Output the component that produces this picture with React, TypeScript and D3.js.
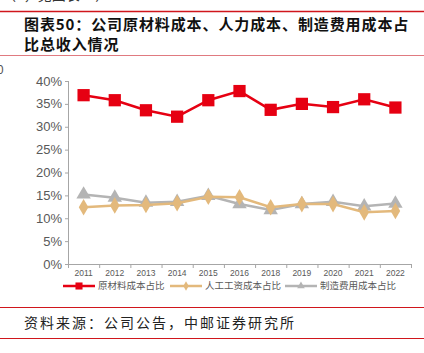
import { useEffect, useRef } from 'react';
import * as d3 from 'd3';

const years = ['2011', '2012', '2013', '2014', '2015', '2016', '2018', '2019', '2020', '2021', '2022'];
const material = [36.9, 35.8, 33.6, 32.2, 35.8, 37.8, 33.7, 35.0, 34.3, 36.0, 34.2];
const labor = [12.4, 12.8, 12.9, 13.3, 14.7, 14.6, 12.4, 13.1, 13.1, 11.3, 11.6];
const overhead = [15.2, 14.5, 13.4, 13.6, 14.9, 13.1, 11.8, 13.1, 13.6, 12.6, 13.2];
const yTicks = [0, 5, 10, 15, 20, 25, 30, 35, 40];
const seriesNames = ['原材料成本占比', '人工工资成本占比', '制造费用成本占比'];
const colors = ['#e60012', '#e3b97c', '#b4b4b4'];

const cjk = '"Noto Sans CJK SC", "Noto Sans", sans-serif';

const App = () => {
  const svgRef = useRef<SVGSVGElement>(null);

  useEffect(() => {
    const svg = d3.select(svgRef.current);
    svg.selectAll('*').remove();

    // header / footer rules and texts
    svg.append('text').attr('x', 2).attr('y', 0).attr('font-family', cjk).attr('font-size', 14)
      .attr('fill', '#333').text('（2，见图表49）');
    svg.append('line').attr('x1', 0).attr('x2', 424).attr('y1', 11.5).attr('y2', 11.5)
      .attr('stroke', '#d0161c').attr('stroke-width', 1.5);
    svg.append('line').attr('x1', 0).attr('x2', 424).attr('y1', 55.5).attr('y2', 55.5)
      .attr('stroke', '#e07a80').attr('stroke-width', 1.2);
    const title = svg.append('text').attr('font-family', cjk).attr('font-size', 15)
      .attr('font-weight', 'bold').attr('fill', '#111').attr('letter-spacing', 0.9);
    title.append('tspan').attr('x', 24).attr('y', 30).text('图表50：公司原材料成本、人力成本、制造费用成本占');
    title.append('tspan').attr('x', 24).attr('y', 50).text('比总收入情况');
    svg.append('text').attr('x', -3).attr('y', 74).attr('font-family', cjk).attr('font-size', 12)
      .attr('fill', '#555').text('0');

    svg.append('line').attr('x1', 0).attr('x2', 424).attr('y1', 307.5).attr('y2', 307.5)
      .attr('stroke', '#d0161c').attr('stroke-width', 1);
    svg.append('line').attr('x1', 0).attr('x2', 424).attr('y1', 338.5).attr('y2', 338.5)
      .attr('stroke', '#d0161c').attr('stroke-width', 1);
    svg.append('text').attr('x', 24).attr('y', 328).attr('font-family', cjk).attr('font-size', 14)
      .attr('fill', '#222').attr('letter-spacing', 2).text('资料来源：公司公告，中邮证券研究所');

    // chart
    const left = 68, right = 411, top = 81, bottom = 264;
    const x = d3.scaleBand().domain(years).range([left, right]);
    const y = d3.scaleLinear().domain([0, 40]).range([bottom, top]);
    const cx = (d: string) => (x(d) as number) + x.bandwidth() / 2;

    const g = svg.append('g');
    // y axis
    g.append('line').attr('x1', left + 0.5).attr('x2', left + 0.5).attr('y1', top).attr('y2', bottom)
      .attr('stroke', '#a6a6a6');
    yTicks.forEach(t => {
      g.append('line').attr('x1', left - 3).attr('x2', left).attr('y1', y(t) + 0.5).attr('y2', y(t) + 0.5)
        .attr('stroke', '#a6a6a6');
      g.append('text').attr('x', left - 6).attr('y', y(t)).attr('dy', '0.35em')
        .attr('text-anchor', 'end').attr('font-family', 'Arial, "Liberation Sans", sans-serif')
        .attr('font-size', 13).attr('fill', '#595959').text(`${t}%`);
    });
    // x axis
    g.append('line').attr('x1', left).attr('x2', right).attr('y1', bottom + 0.5).attr('y2', bottom + 0.5)
      .attr('stroke', '#a6a6a6');
    const edges = [...years.map(d => x(d) as number), right];
    edges.forEach(e => {
      g.append('line').attr('x1', e + 0.5).attr('x2', e + 0.5).attr('y1', bottom).attr('y2', bottom + 4)
        .attr('stroke', '#a6a6a6');
    });
    years.forEach(d => {
      g.append('text').attr('x', cx(d)).attr('y', bottom + 12).attr('text-anchor', 'middle')
        .attr('font-family', 'Arial, "Liberation Sans", sans-serif').attr('font-size', 8.5)
        .attr('fill', '#595959').text(d);
    });

    const line = d3.line<number>().x((_, i) => cx(years[i])).y(v => y(v));
    const symbols = [d3.symbolSquare, d3.symbolDiamond, d3.symbolTriangle];
    const sizes = [150, 80, 90];
    const all = [material, labor, overhead];
    // draw gray, beige, then red on top
    [2, 1, 0].forEach(si => {
      const vals = all[si];
      g.append('path').datum(vals).attr('d', line).attr('fill', 'none')
        .attr('stroke', colors[si]).attr('stroke-width', 2.5);
      const sym = d3.symbol().type(symbols[si]).size(sizes[si]);
      vals.forEach((v, i) => {
        g.append('path').attr('d', sym()).attr('fill', colors[si])
          .attr('transform', `translate(${cx(years[i])},${y(v)})`);
      });
    });

    // legend
    const legendX = [63, 170, 285];
    legendX.forEach((lx, i) => {
      const ly = 286;
      g.append('line').attr('x1', lx).attr('x2', lx + 32).attr('y1', ly).attr('y2', ly)
        .attr('stroke', colors[i]).attr('stroke-width', 2.5);
      const sym = d3.symbol().type(symbols[i]).size(i === 0 ? 50 : 25);
      g.append('path').attr('d', sym()).attr('fill', colors[i])
        .attr('transform', `translate(${lx + 16},${ly})`);
      g.append('text').attr('x', lx + 35).attr('y', ly).attr('dy', '0.35em')
        .attr('font-family', cjk).attr('font-size', 9.5).attr('fill', '#595959').text(seriesNames[i]);
    });
  }, []);

  return (
    <svg ref={svgRef} width={424} height={353}
      style={{ position: 'absolute', left: 0, top: 0, background: '#fff' }} />
  );
};

export default App;
